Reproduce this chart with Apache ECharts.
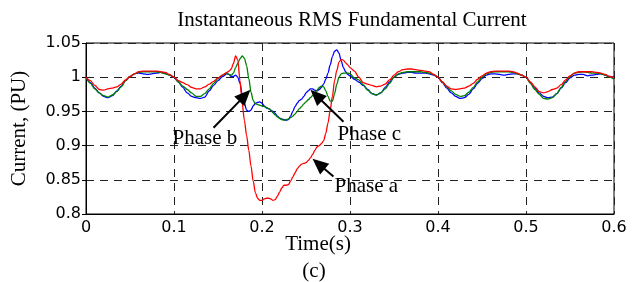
<!DOCTYPE html>
<html>
<head>
<meta charset="utf-8">
<script src="https://cdn.jsdelivr.net/npm/echarts@6/dist/echarts.min.js"></script>
<style>
html,body{margin:0;padding:0;background:#fff;}
#main{width:632px;height:282px;}
</style>
</head>
<body>
<div id="main"></div>
<script>
// sample times (s)
var time = [
  0,0.005,0.01,0.015,0.02,0.025,0.03,0.035,0.04,0.045,0.05,0.055,0.06,0.065,0.07,0.075,
  0.08,0.085,0.09,0.095,0.1,0.105,0.11,0.115,0.12,0.125,0.13,0.135,0.14,0.145,0.15,0.155,
  0.16,0.1625,0.165,0.1675,0.17,0.1725,0.175,0.1775,0.18,0.1825,0.185,0.1875,0.19,0.1925,
  0.195,0.1975,0.2,0.2025,0.205,0.2075,0.21,0.2125,0.215,0.2175,0.22,0.2225,0.225,0.2275,
  0.23,0.2325,0.235,0.2375,0.24,0.2425,0.245,0.2475,0.25,0.2525,0.255,0.2575,0.26,0.2625,
  0.265,0.2675,0.27,0.2725,0.275,0.2775,0.28,0.2825,0.285,0.2875,0.29,0.2925,0.295,0.2975,0.3,
  0.305,0.31,0.315,0.32,0.325,0.33,0.335,0.34,0.345,0.35,0.355,0.36,0.365,0.37,0.375,0.38,
  0.385,0.39,0.395,0.4,0.405,0.41,0.415,0.42,0.425,0.43,0.435,0.44,0.445,0.45,0.455,0.46,
  0.465,0.47,0.475,0.48,0.485,0.49,0.495,0.5,0.505,0.51,0.515,0.52,0.525,0.53,0.535,0.54,
  0.545,0.55,0.555,0.56,0.565,0.57,0.575,0.58,0.585,0.59,0.595,0.6
];

// phase c (blue)
var phaseC = [
  1.000,0.992,0.984,0.977,0.972,0.970,0.973,0.980,0.987,0.995,
  1.001,1.005,1.006,1.005,1.004,1.005,1.006,1.007,1.006,1.003,
  1.000,0.993,0.985,0.977,0.972,0.970,0.969,0.971,0.980,0.988,
  0.995,1.001,
  1.005,1.004,1.001,1.001,1.003,1.000,0.991,0.975,0.962,0.952,
  0.950,0.952,0.958,0.962,0.963,0.964,0.962,0.958,0.955,0.954,
  0.952,0.950,0.947,0.943,0.940,0.939,0.938,0.937,0.938,0.943,
  0.950,0.957,0.962,0.966,0.968,0.972,0.977,0.980,0.983,0.983,
  0.981,0.980,0.982,0.985,0.990,0.997,1.006,1.018,1.030,1.038,
  1.040,1.035,1.024,1.014,1.008,1.004,1.002,
  0.997,0.993,0.988,0.982,0.976,0.974,0.977,0.985,0.993,1.000,
  1.004,1.006,1.007,1.007,1.006,1.006,1.006,1.005,1.003,1.000,
  0.992,0.984,0.977,0.972,0.969,0.970,0.975,0.983,0.991,0.998,
  1.003,1.005,1.005,1.004,1.003,1.004,1.005,1.005,1.003,1.000,
  0.992,0.984,0.977,0.972,0.970,0.971,0.976,0.984,0.992,0.999,
  1.003,1.004,1.004,1.002,1.003,1.004,1.005,1.003,1.001,1.000
];

// phase b (green)
var phaseB = [
  1.000,0.991,0.983,0.977,0.973,0.971,0.974,0.979,0.986,0.995,
  1.001,1.005,1.007,1.008,1.008,1.008,1.008,1.007,1.005,1.003,
  1.000,0.993,0.987,0.982,0.977,0.972,0.972,0.976,0.983,0.991,
  0.998,1.003,
  1.006,1.004,1.003,1.006,1.014,1.020,1.027,1.031,1.028,1.017,
  0.998,0.978,0.966,0.961,0.960,0.959,0.958,0.957,0.956,0.954,
  0.952,0.948,0.945,0.942,0.940,0.938,0.937,0.938,0.939,0.941,
  0.943,0.946,0.950,0.954,0.957,0.961,0.964,0.967,0.970,0.973,
  0.977,0.981,0.985,0.987,0.986,0.980,0.972,0.965,0.965,0.976,
  0.990,1.000,1.005,1.006,1.006,1.006,1.005,
  0.999,0.996,0.989,0.981,0.976,0.974,0.977,0.983,0.991,1.000,
  1.005,1.007,1.008,1.008,1.008,1.008,1.007,1.006,1.004,1.000,
  0.993,0.986,0.980,0.975,0.972,0.973,0.978,0.985,0.993,1.000,
  1.005,1.007,1.008,1.008,1.008,1.008,1.007,1.005,1.003,1.000,
  0.991,0.982,0.975,0.969,0.968,0.970,0.976,0.985,0.994,1.001,
  1.006,1.007,1.008,1.007,1.006,1.006,1.005,1.003,1.000,0.997
];

// phase a (red)
var phaseA = [
  1.000,0.995,0.988,0.982,0.981,0.983,0.984,0.986,0.990,0.996,
  1.001,1.005,1.008,1.009,1.009,1.009,1.009,1.008,1.007,1.004,
  1.000,0.995,0.992,0.989,0.985,0.983,0.983,0.986,0.990,0.994,
  0.999,1.003,
  1.007,1.009,1.012,1.020,1.031,1.025,0.995,0.962,0.937,0.915,
  0.893,0.870,0.848,0.831,0.823,0.820,0.820,0.822,0.823,0.823,
  0.822,0.820,0.821,0.826,0.832,0.838,0.842,0.842,0.843,0.848,
  0.854,0.860,0.866,0.870,0.873,0.874,0.875,0.878,0.882,0.887,
  0.893,0.898,0.900,0.903,0.907,0.918,0.933,0.952,0.972,0.995,
  1.010,1.022,1.026,1.025,1.021,1.018,1.014,
  1.009,1.000,0.992,0.990,0.988,0.986,0.987,0.990,0.996,1.003,
  1.008,1.011,1.012,1.012,1.011,1.010,1.009,1.008,1.004,1.000,
  0.993,0.987,0.983,0.982,0.983,0.984,0.987,0.991,0.997,1.002,
  1.006,1.008,1.009,1.009,1.009,1.009,1.008,1.006,1.003,1.000,
  0.993,0.986,0.979,0.977,0.979,0.982,0.984,0.989,0.996,1.002,
  1.006,1.008,1.008,1.008,1.008,1.007,1.006,1.004,1.001,0.999
];

// arrow annotations, in data units: [tail, tip]
var arrows = [
  [[0.1449, 0.926], [0.1869, 0.9815]],   // phase b
  [[0.2926, 0.9348], [0.2551, 0.9815]],  // phase c
  [[0.2812, 0.8547], [0.2574, 0.8809]]   // phase a
];
var notes = [
  {text: 'Phase b', at: [0.0983, 0.910]},
  {text: 'Phase c', at: [0.2858, 0.916]},
  {text: 'Phase a', at: [0.2824, 0.840]}
];

var serif = '"Liberation Serif","Times New Roman",serif';
var sans = '"DejaVu Sans",sans-serif';

function pairs(ys){
  return time.map(function(t, i){ return [t, ys[i]]; });
}

function lineSeries(name, ys, color){
  return {
    name: name,
    type: 'line',
    data: pairs(ys),
    showSymbol: false,
    smooth: 0.3,
    smoothMonotone: 'x',
    lineStyle: {color: color, width: 1.3},
    itemStyle: {color: color},
    animation: false
  };
}

var chart = echarts.init(document.getElementById('main'), null, {renderer: 'canvas'});

var option = {
  backgroundColor: '#fff',
  animation: false,
  grid: {
    left: 86, right: 18, top: 43, bottom: 68,
    containLabel: false,
    outerBoundsMode: 'none',
    show: true, borderColor: '#000', borderWidth: 1
  },
  xAxis: {
    type: 'value',
    min: 0, max: 0.6, interval: 0.1,
    axisLine: {show: true, lineStyle: {color: '#000', width: 1}},
    axisTick: {show: false},
    axisLabel: {color: '#000', fontFamily: sans, fontSize: 16, margin: 6},
    splitLine: {show: true, lineStyle: {color: '#222', width: 1, type: [8, 6]}}
  },
  yAxis: {
    type: 'value',
    min: 0.8, max: 1.05, interval: 0.05,
    name: 'Current, (PU)',
    nameLocation: 'middle',
    nameGap: 56,
    nameTextStyle: {color: '#000', fontFamily: serif, fontSize: 21},
    axisLine: {show: true, lineStyle: {color: '#000', width: 1}},
    axisTick: {show: true, inside: false, length: 4, lineStyle: {color: '#000'}},
    axisLabel: {color: '#000', fontFamily: sans, fontSize: 16, margin: 5},
    splitLine: {show: true, lineStyle: {color: '#222', width: 1, type: [8, 6]}}
  },
  series: [
    lineSeries('Phase c', phaseC, '#0000ff'),
    lineSeries('Phase b', phaseB, '#008000'),
    lineSeries('Phase a', phaseA, '#ff0000')
  ]
};

chart.setOption(option);

// annotations placed through the grid's own scales
function arrowGraphics(tail, tip){
  var p0 = chart.convertToPixel({gridIndex: 0}, tail);
  var p1 = chart.convertToPixel({gridIndex: 0}, tip);
  var dx = p1[0] - p0[0], dy = p1[1] - p0[1];
  var len = Math.sqrt(dx * dx + dy * dy);
  var ux = dx / len, uy = dy / len;
  var hl = 16, hw = 7;
  var bx = p1[0] - ux * hl, by = p1[1] - uy * hl;
  return [
    {type: 'line', shape: {x1: p0[0], y1: p0[1], x2: bx + ux * 2, y2: by + uy * 2},
     style: {stroke: '#000', lineWidth: 2}, z: 100},
    {type: 'polygon',
     shape: {points: [[p1[0], p1[1]], [bx - uy * hw, by + ux * hw], [bx + uy * hw, by - ux * hw]]},
     style: {fill: '#000'}, z: 100}
  ];
}

var graphics = [
  {type: 'text', style: {text: 'Instantaneous RMS Fundamental Current', x: 352, y: 20,
    font: '21px ' + serif, fill: '#000', textAlign: 'center', textVerticalAlign: 'middle'}},
  {type: 'text', style: {text: 'Time(s)', x: 318, y: 244,
    font: '21px ' + serif, fill: '#000', textAlign: 'center', textVerticalAlign: 'middle'}},
  {type: 'text', style: {text: '(c)', x: 314, y: 271,
    font: '21px ' + serif, fill: '#000', textAlign: 'center', textVerticalAlign: 'middle'}}
];
arrows.forEach(function(a){
  graphics = graphics.concat(arrowGraphics(a[0], a[1]));
});
notes.forEach(function(n){
  var p = chart.convertToPixel({gridIndex: 0}, n.at);
  graphics.push({type: 'text', z: 100, style: {text: n.text, x: p[0], y: p[1],
    font: '21px ' + serif, fill: '#000', textAlign: 'left', textVerticalAlign: 'middle'}});
});

chart.setOption({graphic: graphics});
</script>
</body>
</html>
